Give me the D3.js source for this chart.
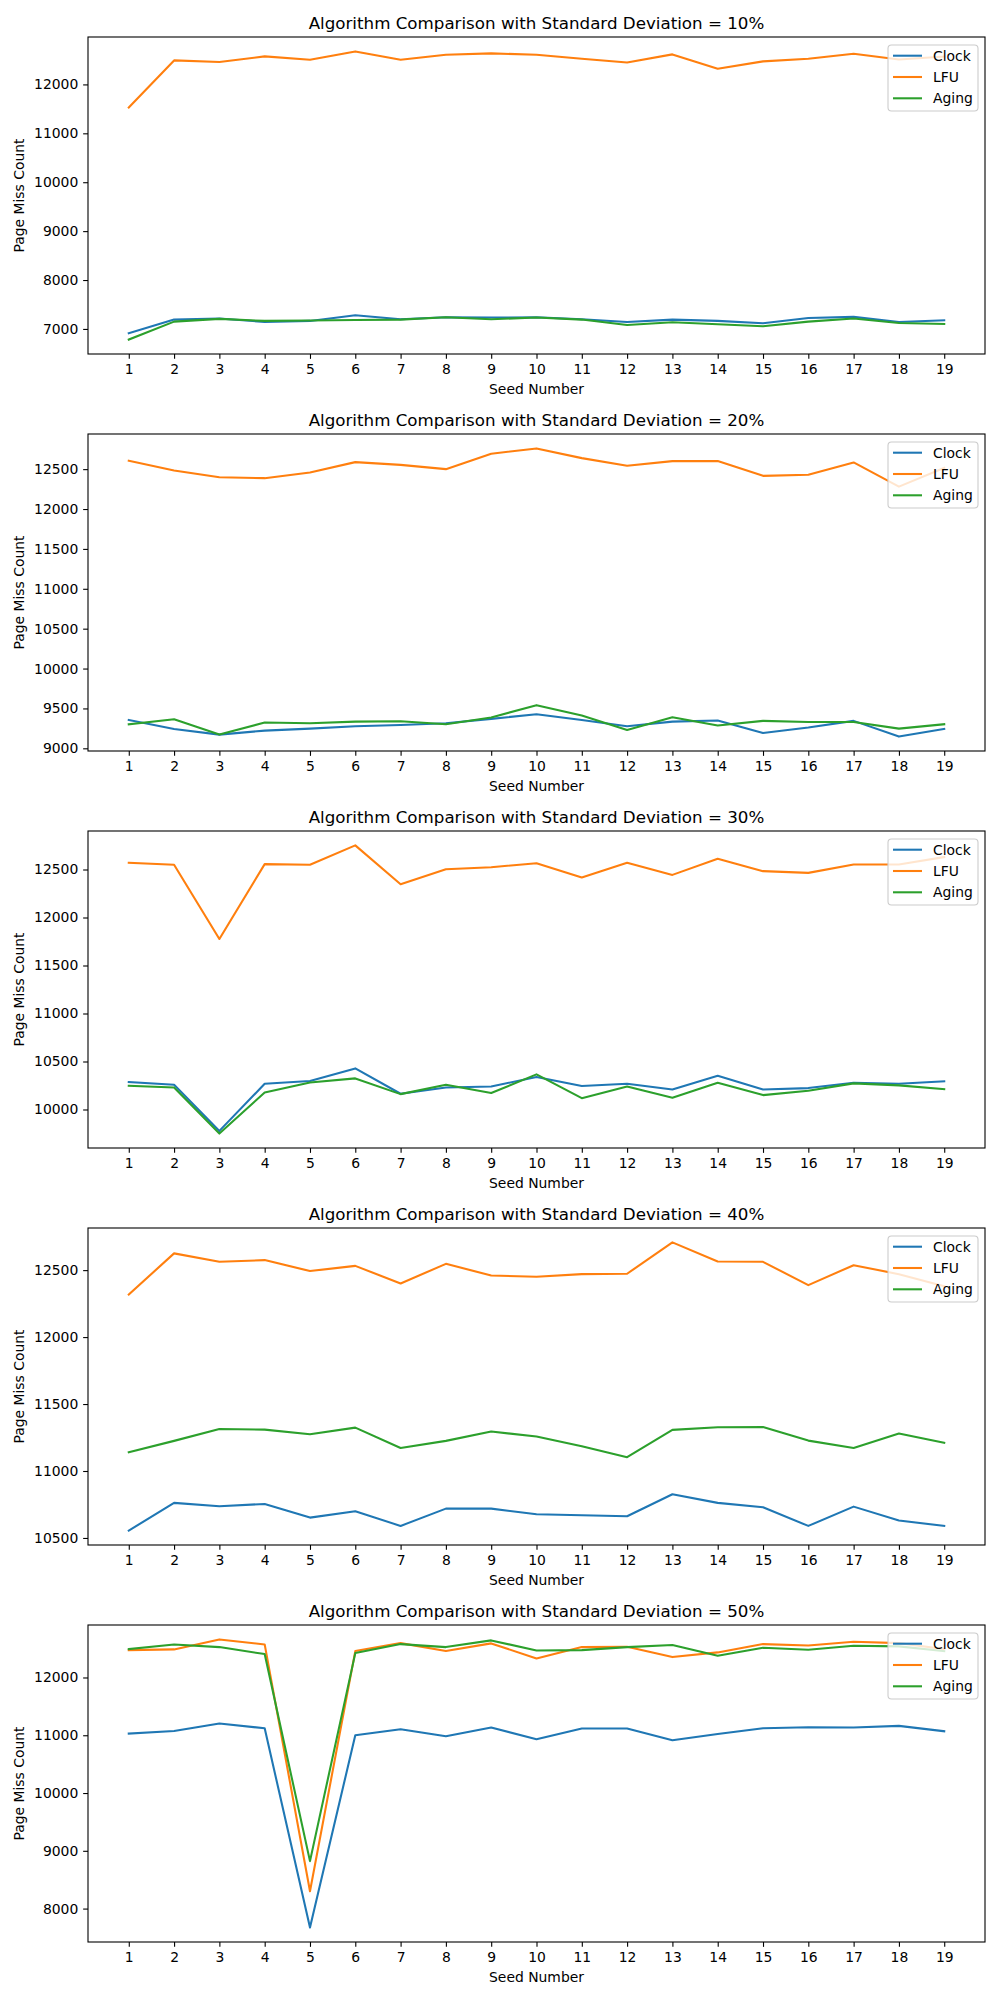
<!DOCTYPE html>
<html><head><meta charset="utf-8">
<script src="https://cdn.jsdelivr.net/npm/d3@7"></script>
<style>body{margin:0;background:#fff}svg{display:block;font-family:"DejaVu Sans",sans-serif}</style>
</head><body>
<svg id="c" width="1000" height="2000"></svg>
<script>
const seeds = [1,2,3,4,5,6,7,8,9,10,11,12,13,14,15,16,17,18,19];
const deviations = ["10%","20%","30%","40%","50%"];
const seriesNames = ["Clock","LFU","Aging"];
const seriesColors = ["#1f77b4","#ff7f0e","#2ca02c"];

const clock10 = [6911,7191,7212,7143,7164,7280,7198,7239,7232,7239,7198,7143,7191,7164,7116,7225,7246,7143,7177];
const lfu10   = [11529,12491,12457,12573,12505,12675,12505,12607,12634,12607,12525,12450,12614,12320,12471,12525,12627,12511,12570];
const aging10 = [6782,7150,7205,7164,7171,7184,7191,7239,7198,7232,7191,7082,7136,7096,7055,7150,7212,7123,7102];

const clock20 = [9356,9243,9172,9222,9247,9277,9293,9314,9369,9428,9356,9277,9335,9348,9193,9260,9344,9147,9243];
const lfu20   = [12605,12483,12399,12387,12458,12588,12554,12500,12693,12760,12638,12542,12601,12601,12416,12429,12584,12281,12515];
const aging20 = [9302,9365,9172,9323,9314,9335,9340,9302,9386,9541,9411,9231,9390,9285,9344,9331,9331,9247,9302];

const clock30 = [10286,10258,9777,10268,10296,10428,10164,10230,10240,10338,10244,10268,10209,10352,10209,10223,10278,10268,10293];
const lfu30   = [12570,12549,11776,12556,12549,12751,12347,12503,12524,12566,12416,12570,12444,12611,12483,12465,12552,12552,12630];
const aging30 = [10247,10230,9749,10177,10282,10324,10160,10258,10171,10366,10118,10240,10122,10278,10150,10195,10272,10251,10212];

const clock40 = [10555,10762,10737,10754,10652,10699,10590,10719,10719,10677,10669,10662,10826,10762,10729,10590,10734,10630,10590];
const lfu40   = [12318,12625,12562,12575,12493,12532,12400,12547,12460,12450,12470,12473,12707,12565,12562,12388,12537,12470,12380];
const aging40 = [11140,11225,11314,11309,11275,11324,11172,11225,11295,11257,11185,11103,11307,11327,11329,11227,11172,11280,11210];

const clock50 = [11029,11075,11202,11121,7671,11000,11104,10983,11133,10931,11116,11116,10913,11023,11121,11139,11133,11162,11069];
const lfu50   = [12474,12486,12659,12572,8301,12457,12595,12457,12590,12329,12526,12532,12353,12434,12578,12555,12618,12595,12491];
const aging50 = [12491,12572,12526,12405,8821,12422,12578,12526,12642,12468,12474,12526,12561,12376,12514,12480,12549,12538,12457];

const yTicks10 = [7000,8000,9000,10000,11000,12000];
const yTicks20 = [9000,9500,10000,10500,11000,11500,12000,12500];
const yTicks30 = [10000,10500,11000,11500,12000,12500];
const yTicks40 = [10500,11000,11500,12000,12500];
const yTicks50 = [8000,9000,10000,11000,12000];

const panels = [
  {sd: deviations[0], series: [clock10, lfu10, aging10], ticks: yTicks10},
  {sd: deviations[1], series: [clock20, lfu20, aging20], ticks: yTicks20},
  {sd: deviations[2], series: [clock30, lfu30, aging30], ticks: yTicks30},
  {sd: deviations[3], series: [clock40, lfu40, aging40], ticks: yTicks40},
  {sd: deviations[4], series: [clock50, lfu50, aging50], ticks: yTicks50}
];

const svg = d3.select("#c");
const L = 88, R = 985, H = 317, FS = 13.9;

panels.forEach((p, i) => {
  const top = 37 + i * 397, bottom = top + H;
  const g = svg.append("g");
  const x = d3.scaleLinear().domain([seeds[0] - 0.9, seeds[seeds.length-1] + 0.9]).range([L, R]);
  const all = p.series.flat();
  const mn = d3.min(all), mx = d3.max(all), pad = (mx - mn) * 0.05;
  const y = d3.scaleLinear().domain([mn - pad, mx + pad]).range([bottom, top]);

  const clipId = "clip" + i;
  svg.append("clipPath").attr("id", clipId).append("rect")
    .attr("x", L).attr("y", top).attr("width", R - L).attr("height", H);

  const line = d3.line().x((d, j) => x(seeds[j])).y(d => y(d));
  const lg = g.append("g").attr("clip-path", `url(#${clipId})`);
  p.series.forEach((s, k) => {
    lg.append("path").datum(s).attr("d", line)
      .attr("fill", "none").attr("stroke", seriesColors[k])
      .attr("stroke-width", 2.08).attr("stroke-linejoin", "round").attr("stroke-linecap", "square");
  });

  const xa = g.append("g").attr("transform", `translate(0,${bottom})`)
    .call(d3.axisBottom(x).tickValues(seeds).tickFormat(d3.format("d")).tickSize(4.86).tickPadding(4.86));
  const ya = g.append("g").attr("transform", `translate(${L},0)`)
    .call(d3.axisLeft(y).tickValues(p.ticks).tickFormat(d3.format("d")).tickSize(4.86).tickPadding(4.86));
  [xa, ya].forEach(a => {
    a.select(".domain").remove();
    a.selectAll("line").attr("stroke", "#000").attr("stroke-width", 1.1);
    a.selectAll("text").attr("font-size", FS).attr("fill", "#000").attr("font-family", "DejaVu Sans, sans-serif");
  });

  g.append("rect").attr("x", L).attr("y", top).attr("width", R - L).attr("height", H)
    .attr("fill", "none").attr("stroke", "#000").attr("stroke-width", 1.1);

  g.append("text").attr("x", (L + R) / 2).attr("y", top - 8.3)
    .attr("text-anchor", "middle").attr("font-size", 16.7)
    .text(`Algorithm Comparison with Standard Deviation = ${p.sd}`);

  g.append("text").attr("x", (L + R) / 2).attr("y", bottom + 40)
    .attr("text-anchor", "middle").attr("font-size", FS).text("Seed Number");

  g.append("text").attr("transform", `translate(24,${(top + bottom) / 2}) rotate(-90)`)
    .attr("text-anchor", "middle").attr("font-size", FS).text("Page Miss Count");

  // legend
  const leg = g.append("g");
  leg.append("rect").attr("x", 888).attr("y", top + 8).attr("width", 90).attr("height", 66)
    .attr("rx", 3.5).attr("fill", "#fff").attr("fill-opacity", 0.8)
    .attr("stroke", "#cccccc").attr("stroke-width", 1.1);
  seriesNames.forEach((n, k) => {
    const yy = top + 18.7 + k * 21.3;
    leg.append("line").attr("x1", 893).attr("x2", 922).attr("y1", yy).attr("y2", yy)
      .attr("stroke", seriesColors[k]).attr("stroke-width", 2.08);
    leg.append("text").attr("x", 933).attr("y", yy).attr("dy", "0.35em")
      .attr("font-size", FS).text(n);
  });
});
</script>
</body></html>
